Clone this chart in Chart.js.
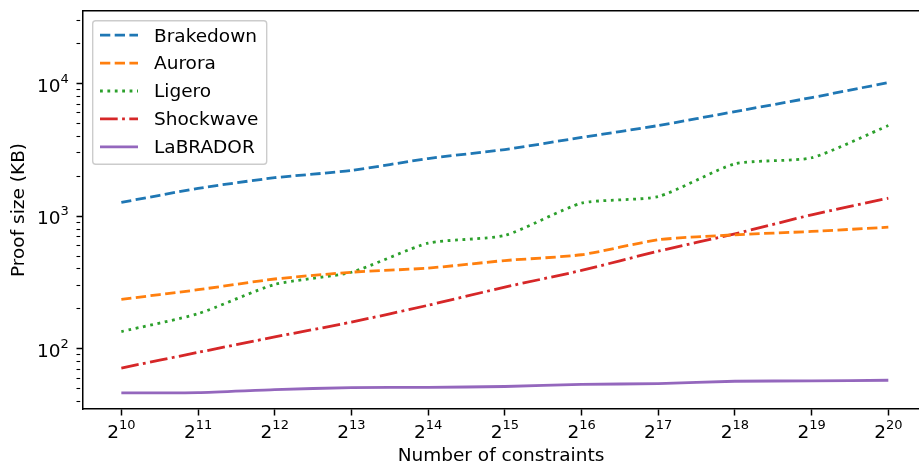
<!DOCTYPE html>
<html>
<head>
<meta charset="utf-8">
<script src="https://cdn.jsdelivr.net/npm/chart.js@4.4.1/dist/chart.umd.min.js"></script>
<style>
  html, body { margin: 0; padding: 0; background: #fff; overflow: hidden; }
  #wrap { width: 919px; height: 465px; }
</style>
</head>
<body>
<div id="wrap"><canvas id="proofChart" width="919" height="465"></canvas></div>
<script>
// Proof size vs number of constraints (log scale)

const exponents = [10, 11, 12, 13, 14, 15, 16, 17, 18, 19, 20];
const brakedown = [1270, 1620, 1950, 2210, 2720, 3180, 3920, 4820, 6140, 7830, 10170];
const aurora    = [236, 279, 336, 378, 406, 463, 512, 664, 724, 767, 826];
const ligero    = [135, 184, 306, 378, 626, 716, 1253, 1406, 2483, 2756, 4820];
const shockwave = [71.7, 94, 123, 159, 213, 292, 390, 545, 736, 1024, 1366];
const labrador  = [46.5, 46.8, 49.3, 51, 51.3, 52, 54, 54.7, 57, 57.3, 58];

const yMajor = [100, 1000, 10000];
const yMinor = [40, 50, 60, 70, 80, 90, 200, 300, 400, 500, 600, 700, 800, 900,
                2000, 3000, 4000, 5000, 6000, 7000, 8000, 9000, 20000, 30000];

const FONT = '"DejaVu Sans", sans-serif';
const BIG = '18.5px ' + FONT;
const SMALL = '13px ' + FONT;
const LW = 2.8;

function series(label, values, color, dash) {
  return {
    label: label,
    data: values,
    borderColor: color,
    backgroundColor: color,
    borderWidth: LW,
    borderDash: dash,
    borderJoinStyle: 'round',
    pointRadius: 0,
    tension: 0.2,
    fill: false
  };
}

// base + raised exponent, like matplotlib mathtext
function powerLabel(ctx, base, exp, x, y, align) {
  ctx.font = BIG;
  const wb = ctx.measureText(base).width;
  ctx.font = SMALL;
  const we = ctx.measureText(exp).width;
  let x0 = align === 'center' ? x - (wb + we) / 2 : x - wb - we;
  ctx.font = BIG;
  ctx.fillText(base, x0, y);
  ctx.font = SMALL;
  ctx.fillText(exp, x0 + wb, y - 9);
}

const mathTicks = {
  id: 'mathTicks',
  afterDraw(chart) {
    const ctx = chart.ctx;
    const xs = chart.scales.x, ys = chart.scales.y;
    ctx.save();
    ctx.fillStyle = '#000';
    ctx.textAlign = 'left';
    ctx.textBaseline = 'alphabetic';
    xs.ticks.forEach(t => {
      powerLabel(ctx, '2', String(t.value), xs.getPixelForValue(t.value), xs.top + 28.5, 'center');
    });
    ys.ticks.filter(t => yMajor.includes(t.value)).forEach(t => {
      const py = ys.getPixelForValue(t.value);
      powerLabel(ctx, '10', String(Math.round(Math.log10(t.value))), ys.right - 14.3, py + 8.3, 'right');
    });
    ctx.restore();
  }
};

// matplotlib-like legend box in the upper left corner
const legendBox = {
  id: 'legendBox',
  afterDatasetsDraw(chart) {
    const ctx = chart.ctx;
    ctx.save();
    ctx.beginPath();
    ctx.roundRect(92.7, 20.7, 174, 143.6, 3);
    ctx.fillStyle = 'rgba(255,255,255,0.8)';
    ctx.fill();
    ctx.lineWidth = 1.4;
    ctx.strokeStyle = '#cccccc';
    ctx.stroke();
    chart.data.datasets.forEach((ds, i) => {
      const y = 35.2 + i * 27.9;
      ctx.setLineDash(ds.borderDash || []);
      ctx.lineWidth = ds.borderWidth;
      ctx.strokeStyle = ds.borderColor;
      ctx.beginPath();
      ctx.moveTo(100, y);
      ctx.lineTo(138, y);
      ctx.stroke();
      ctx.setLineDash([]);
      ctx.fillStyle = '#000';
      ctx.font = BIG;
      ctx.textBaseline = 'middle';
      ctx.textAlign = 'left';
      ctx.fillText(ds.label, 154, y + 1.5);
    });
    ctx.restore();
  }
};

const ctx = document.getElementById('proofChart').getContext('2d');

new Chart(ctx, {
  type: 'line',
  data: {
    labels: exponents,
    datasets: [
      series('Brakedown', brakedown, '#1f77b4', [10.3, 4.4]),
      series('Aurora', aurora, '#ff7f0e', [10.3, 4.4]),
      series('Ligero', ligero, '#2ca02c', [2.8, 4.6]),
      series('Shockwave', shockwave, '#d62728', [17.7, 4.4, 2.8, 4.4]),
      series('LaBRADOR', labrador, '#9467bd', [])
    ]
  },
  plugins: [legendBox, mathTicks],
  options: {
    responsive: false,
    animation: false,
    devicePixelRatio: 1,
    layout: { padding: { top: 11, right: 0, bottom: 0, left: 0 } },
    plugins: {
      legend: { display: false },
      tooltip: { enabled: false }
    },
    scales: {
      x: {
        type: 'linear',
        position: 'bottom',
        min: 9.5,
        max: 20.4,
        afterBuildTicks: scale => { scale.ticks = exponents.map(v => ({ value: v })); },
        afterFit: scale => { scale.height = 56; },
        ticks: { display: false },
        grid: {
          drawOnChartArea: false,
          drawTicks: true,
          tickLength: 6.5,
          tickWidth: 1.5,
          tickColor: '#000'
        },
        border: { display: true, color: '#000', width: 1.5 },
        title: {
          display: true,
          text: 'Number of constraints',
          color: '#000',
          font: { family: FONT, size: 18.5, lineHeight: 1 },
          padding: { top: 0, bottom: 0 }
        }
      },
      xTop: {
        type: 'linear',
        position: 'top',
        min: 9.5,
        max: 20.4,
        afterFit: scale => { scale.height = 0; },
        ticks: { display: false },
        grid: { drawOnChartArea: false, drawTicks: false },
        border: { display: true, color: '#000', width: 1.5 }
      },
      y: {
        type: 'logarithmic',
        min: 35.2,
        max: 35200,
        bounds: 'data',
        afterBuildTicks: scale => {
          scale.ticks = yMajor.concat(yMinor).sort((a, b) => a - b).map(v => ({ value: v }));
        },
        afterFit: scale => { scale.width = 83; },
        ticks: { display: false },
        grid: {
          drawOnChartArea: false,
          drawTicks: true,
          tickLength: 6.5,
          tickColor: '#000',
          tickWidth: c => yMajor.includes(c.tick.value) ? 1.5 : 1.1,
          tickBorderDash: c => yMajor.includes(c.tick.value) ? [] : [3.7, 20]
        },
        border: { display: true, color: '#000', width: 1.5 },
        title: {
          display: true,
          text: 'Proof size (KB)',
          color: '#000',
          font: { family: FONT, size: 18.5, lineHeight: 1 },
          padding: { top: 10, bottom: 0 }
        }
      }
    }
  }
});
</script>
</body>
</html>
